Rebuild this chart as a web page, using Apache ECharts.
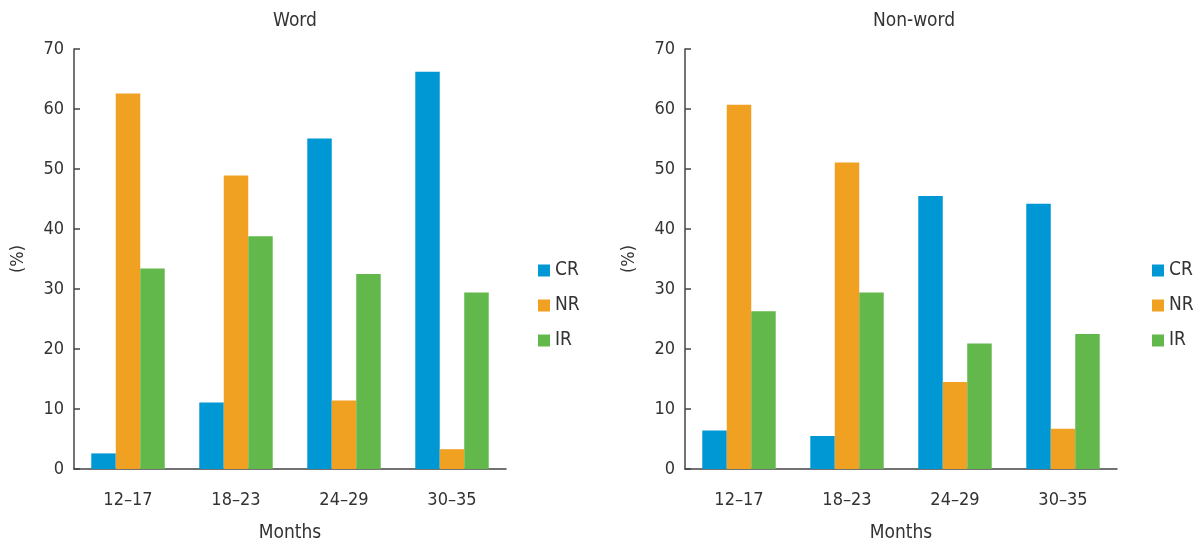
<!DOCTYPE html>
<html>
<head>
<meta charset="utf-8">
<script src="https://cdn.jsdelivr.net/npm/echarts@6/dist/echarts.min.js"></script>
<style>
  html, body { margin: 0; padding: 0; background: #fff; }
  #chart { width: 1203px; height: 548px; }
</style>
</head>
<body>
<div id="chart"></div>
<script>
// Response types by age group, percentages
const months = ['12–17', '18–23', '24–29', '30–35'];
const seriesNames = ['CR', 'NR', 'IR'];
const yTicks = [0, 10, 20, 30, 40, 50, 60, 70];

const wordCR = [2.6, 11.1, 55.1, 66.2];
const wordNR = [62.6, 48.9, 11.4, 3.3];
const wordIR = [33.4, 38.8, 32.5, 29.4];

const nonwordCR = [6.4, 5.5, 45.5, 44.2];
const nonwordNR = [60.7, 51.1, 14.5, 6.7];
const nonwordIR = [26.3, 29.4, 20.9, 22.5];

const colors = ['#0098d4', '#f0a121', '#62b84b'];
const font = '"DejaVu Sans Condensed", sans-serif';
const textColor = '#333';

function xAxisFor(gridIndex) {
  return {
    type: 'category', gridIndex, data: months,
    axisLine: { lineStyle: { color: '#444', width: 1.5 } },
    axisTick: { show: false },
    axisLabel: { color: textColor, fontSize: 18, fontFamily: font, margin: 22 },
    name: 'Months', nameLocation: 'middle', nameGap: 55,
    nameTextStyle: { color: textColor, fontSize: 19, fontFamily: font }
  };
}
function yAxisFor(gridIndex) {
  return {
    type: 'value', gridIndex,
    min: yTicks[0], max: yTicks[yTicks.length - 1], interval: yTicks[1] - yTicks[0],
    splitLine: { show: false },
    axisLine: { show: true, lineStyle: { color: '#444', width: 1.5 } },
    axisTick: { show: true, inside: true, length: 6, lineStyle: { color: '#444', width: 1.5 } },
    axisLabel: { color: textColor, fontSize: 18, fontFamily: font, margin: 10 },
    name: '(%)', nameLocation: 'middle', nameGap: 47, nameRotate: 90,
    nameTextStyle: { color: textColor, fontSize: 18, fontFamily: font }
  };
}
function barsFor(gridIndex, data) {
  return data.map((vals, i) => ({
    name: seriesNames[i], type: 'bar',
    xAxisIndex: gridIndex, yAxisIndex: gridIndex,
    data: vals, barGap: '0%', barCategoryGap: '32%',
    itemStyle: { color: colors[i] },
    emphasis: { disabled: true }
  }));
}
function legendFor(left) {
  return {
    orient: 'vertical', left, top: 256, itemGap: 16,
    itemWidth: 12, itemHeight: 12, icon: 'rect',
    data: seriesNames,
    textStyle: { color: textColor, fontSize: 19, fontFamily: font }
  };
}

const chart = echarts.init(document.getElementById('chart'), null, { renderer: 'canvas' });
chart.setOption({
  animation: false,
  color: colors,
  title: [
    { text: 'Word', left: 290, top: 7, textAlign: 'center',
      textStyle: { color: textColor, fontSize: 19, fontWeight: 'normal', fontFamily: font } },
    { text: 'Non-word', left: 909, top: 7, textAlign: 'center',
      textStyle: { color: textColor, fontSize: 19, fontWeight: 'normal', fontFamily: font } }
  ],
  legend: [legendFor(533), legendFor(1147)],
  grid: [
    { left: 74, top: 49, width: 432, height: 429 },
    { left: 685, top: 49, width: 432, height: 429 }
  ],
  xAxis: [xAxisFor(0), xAxisFor(1)],
  yAxis: [yAxisFor(0), yAxisFor(1)],
  series: [
    ...barsFor(0, [wordCR, wordNR, wordIR]),
    ...barsFor(1, [nonwordCR, nonwordNR, nonwordIR])
  ]
});
</script>
</body>
</html>
